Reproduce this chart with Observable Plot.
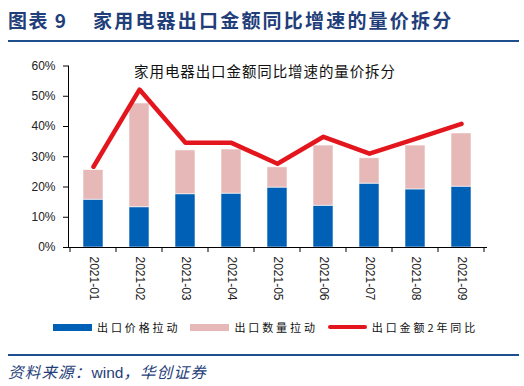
<!DOCTYPE html>
<html>
<head>
<meta charset="utf-8">
<script src="https://cdn.jsdelivr.net/npm/d3@7"></script>
<script src="https://cdn.jsdelivr.net/npm/@observablehq/plot@0.6"></script>
<style>
  html, body { margin: 0; padding: 0; background: #fff; }
  #page { position: relative; width: 524px; height: 386px; overflow: hidden; font-family: "Noto Sans CJK SC", "Liberation Sans", sans-serif; }
  #header { position: absolute; left: 8px; top: 6px; font-size: 19px; font-weight: bold; color: #1F3E7A; white-space: nowrap; letter-spacing: 1.5px; }
  #header .main { position: absolute; left: 85px; top: 0; letter-spacing: 2.2px; }
  .rule { position: absolute; left: 8px; width: 511px; background: #1F4E8C; }
  #inner-title { position: absolute; left: 0; width: 530px; top: 60px; text-align: center; font-size: 14.5px; color: #111; letter-spacing: 0.9px; }
  #chart { position: absolute; left: 0; top: 0; }
  #legend { position: absolute; top: 319px; left: 53px; display: flex; align-items: center; font-size: 11px; color: #111; white-space: nowrap; letter-spacing: 2.9px; }
  .item { display: flex; align-items: center; margin-right: 10px; }
  .sw { width: 39px; margin-right: 5px; }
  #source { position: absolute; left: 8px; top: 360px; font-size: 15.5px; color: #1F3E7A; font-style: italic; white-space: nowrap; letter-spacing: 1.2px; }
  #source .en { font-family: "Liberation Sans", Arial, sans-serif; font-style: normal; letter-spacing: 0; }
</style>
</head>
<body>
<div id="page">
  <div id="chart"></div>
  <div id="header">图表 9<span class="main">家用电器出口金额同比增速的量价拆分</span></div>
  <div class="rule" style="top:40px;height:2px;"></div>
  <div id="inner-title">家用电器出口金额同比增速的量价拆分</div>
  <div id="legend"></div>
  <div class="rule" style="top:354px;height:2px;"></div>
  <div id="source">资料来源：<span class="en">wind</span>，华创证券</div>
</div>
<script>
const months = ["2021-01","2021-02","2021-03","2021-04","2021-05","2021-06","2021-07","2021-08","2021-09"];
const priceContrib = [15.8, 13.3, 17.6, 17.8, 19.8, 13.8, 21.1, 19.2, 20.1];
const volumeContrib = [9.8, 34.3, 14.5, 14.6, 6.7, 19.9, 8.4, 14.5, 17.6];
const exportYoY2 = [26.7, 52.2, 34.6, 34.6, 27.7, 36.6, 31.0, 35.9, 40.9];
const yTicks = [0, 10, 20, 30, 40, 50, 60];
const seriesNames = ["出口价格拉动", "出口数量拉动", "出口金额2年同比"];
const seriesColors = ["#0060B6", "#E6B9B8", "#E3161E"];

const barData = [
  ...months.map((m, i) => ({month: m, series: seriesNames[0], value: priceContrib[i]})),
  ...months.map((m, i) => ({month: m, series: seriesNames[1], value: volumeContrib[i]}))
];
const lineData = months.map((m, i) => ({month: m, value: exportYoY2[i]}));

const plot = Plot.plot({
  width: 524,
  height: 310,
  marginTop: 65.5,
  marginBottom: 63,
  marginLeft: 68,
  marginRight: 37,
  style: {fontFamily: "'Liberation Sans', Arial, sans-serif", fontSize: "12px", color: "#222", background: "transparent"},
  x: {domain: months, paddingInner: 0.555, paddingOuter: 0.2775, axis: null},
  y: {domain: [0, 60], axis: null},
  color: {domain: seriesNames.slice(0, 2), range: seriesColors.slice(0, 2)},
  marks: [
    Plot.barY(barData, {x: "month", y: "value", fill: "series", stroke: "#ffffff", strokeOpacity: 0.7, strokeWidth: 0.8}),
    Plot.lineY(lineData, {x: "month", y: "value", stroke: seriesColors[2], strokeWidth: 4.5, strokeLinejoin: "round", strokeLinecap: "round"}),
    Plot.ruleY([0], {stroke: "#000", strokeWidth: 1}),
    Plot.axisY({ticks: yTicks, tickFormat: d => d + "%", tickSize: 5, tickPadding: 8, stroke: "#000", fill: "#222", label: null}),
    Plot.axisX({tickRotate: 90, tickSize: 0, tickPadding: 9, fill: "#222", label: null})
  ]
});
document.getElementById("chart").appendChild(plot);

// Axis line and band-boundary ticks, placed from the library's scales
const sx = plot.scale("x"), sy = plot.scale("y");
const svg = d3.select(plot);
const g = svg.append("g").attr("stroke", "#000").attr("stroke-width", 1);
const y0 = sy.apply(0), yTop = sy.apply(60);
g.append("line").attr("x1", sx.range[0] + 0.5).attr("x2", sx.range[0] + 0.5).attr("y1", yTop).attr("y2", y0);
const centers = months.map(m => sx.apply(m) + sx.bandwidth / 2);
const bounds = centers.map(c => c - sx.step / 2).concat([centers[centers.length - 1] + sx.step / 2]);
bounds.forEach(b => g.append("line").attr("x1", b).attr("x2", b).attr("y1", y0).attr("y2", y0 + 5));

// Legend
const legend = d3.select("#legend");
seriesNames.forEach((name, i) => {
  const it = legend.append("div").attr("class", "item");
  it.append("div").attr("class", "sw")
    .style("height", i === 2 ? "4px" : "7px")
    .style("border-radius", i === 2 ? "2px" : "0")
    .style("background", seriesColors[i]);
  it.append("span").text(name);
});
</script>
</body>
</html>
